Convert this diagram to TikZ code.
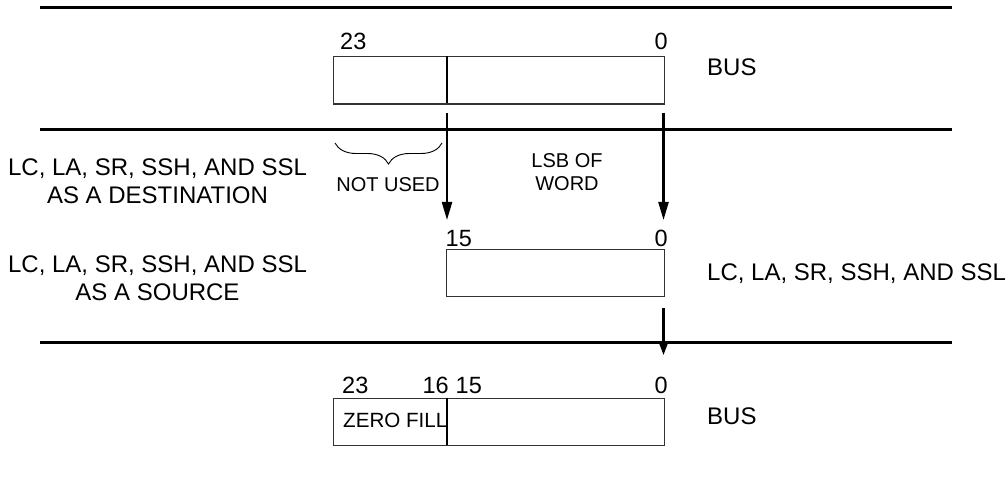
\documentclass[tikz,border=0pt]{standalone}
\usepackage{fontspec}
\setmainfont{Liberation Sans}
\usetikzlibrary{arrows.meta,decorations.pathreplacing}
\begin{document}
\begin{tikzpicture}[x=1pt,y=-1pt,
  rule/.style={line width=3pt},
  regbox/.style={draw=black!80, line width=1.3pt, inner sep=0pt, anchor=north west, minimum height=47.5pt},
  divider/.style={line width=2.2pt},
  num/.style={inner sep=0pt, font=\fontsize{23.5}{27}\selectfont},
  lbl/.style={inner sep=0pt, font=\fontsize{24}{27.5}\selectfont, align=center},
  small/.style={inner sep=0pt, font=\fontsize{20}{23.5}\selectfont, align=center},
  flow/.style={line width=2.2pt, -{Triangle[length=18pt,width=10pt]}},
  flowshort/.style={line width=2.2pt, -{Triangle[length=14pt,width=10pt]}}]
\useasboundingbox (0,0) rectangle (1008,494);

% horizontal rules
\coordinate (r1a) at (40,7.5);   \coordinate (r1b) at (952,7.5);
\coordinate (r2a) at (40,130);   \coordinate (r2b) at (952,130);
\coordinate (r3a) at (40,342);   \coordinate (r3b) at (952,342);
\draw[rule] (r1a) -- (r1b);
\draw[rule] (r2a) -- (r2b);
\draw[rule] (r3a) -- (r3b);

% top register
\node[regbox, minimum width=330.5pt] (topbox) at (333,56) {};
\draw[divider] (447,56) -- (447,103.5);
\node[num, anchor=base west] (t23) at (340,50) {23};
\node[num, anchor=base east] (t0) at (668,50) {0};
\node[lbl, anchor=west] (bus1) at (707,67) {BUS};

% arrows down to middle register
\coordinate (a1s) at (447,113);  \coordinate (a1e) at (447,220);
\coordinate (a2s) at (663.5,113);\coordinate (a2e) at (663.5,220);
\draw[flow] (a1s) -- (a1e);
\draw[flow] (a2s) -- (a2e);

% brace and labels
\coordinate (bra) at (442,143); \coordinate (brb) at (335,143);
\draw[line width=0.9pt, decorate, decoration={brace, amplitude=21pt}] (bra) -- (brb);
\node[small] (notused) at (388,184.5) {NOT USED};
\node[small] (lsb) at (567,172) {LSB OF\\WORD};
\node[lbl] (dest) at (157.5,181) {LC, LA, SR, SSH, AND SSL\\AS A DESTINATION};

% middle register
\node[regbox, minimum width=218pt] (midbox) at (445.5,248.5) {};
\node[num, anchor=base west] (m15) at (445.5,246) {15};
\node[num, anchor=base east] (m0) at (668,246) {0};
\node[lbl] (src) at (157.5,278) {LC, LA, SR, SSH, AND SSL\\AS A SOURCE};
\node[lbl, anchor=west] (srcr) at (707,273.5) {LC, LA, SR, SSH, AND SSL};

% arrow to bottom
\coordinate (a3s) at (663.5,308); \coordinate (a3e) at (663.5,355);
\draw[flowshort] (a3s) -- (a3e);

% bottom register
\node[regbox, minimum width=330.5pt] (botbox) at (333,397.5) {};
\node[small, anchor=west, font=\fontsize{20.6}{24}\selectfont] (zero) at (343,420.5) {ZERO FILL};
\draw[divider] (447,397.5) -- (447,445);
\node[num, anchor=base west] (b23) at (342,393) {23};
\node[num, anchor=base east] (b16) at (449,393) {16};
\node[num, anchor=base west] (b15) at (455.5,393) {15};
\node[num, anchor=base east] (b0) at (668,393) {0};
\node[lbl, anchor=west] (bus2) at (707,416.5) {BUS};
\end{tikzpicture}
\end{document}
